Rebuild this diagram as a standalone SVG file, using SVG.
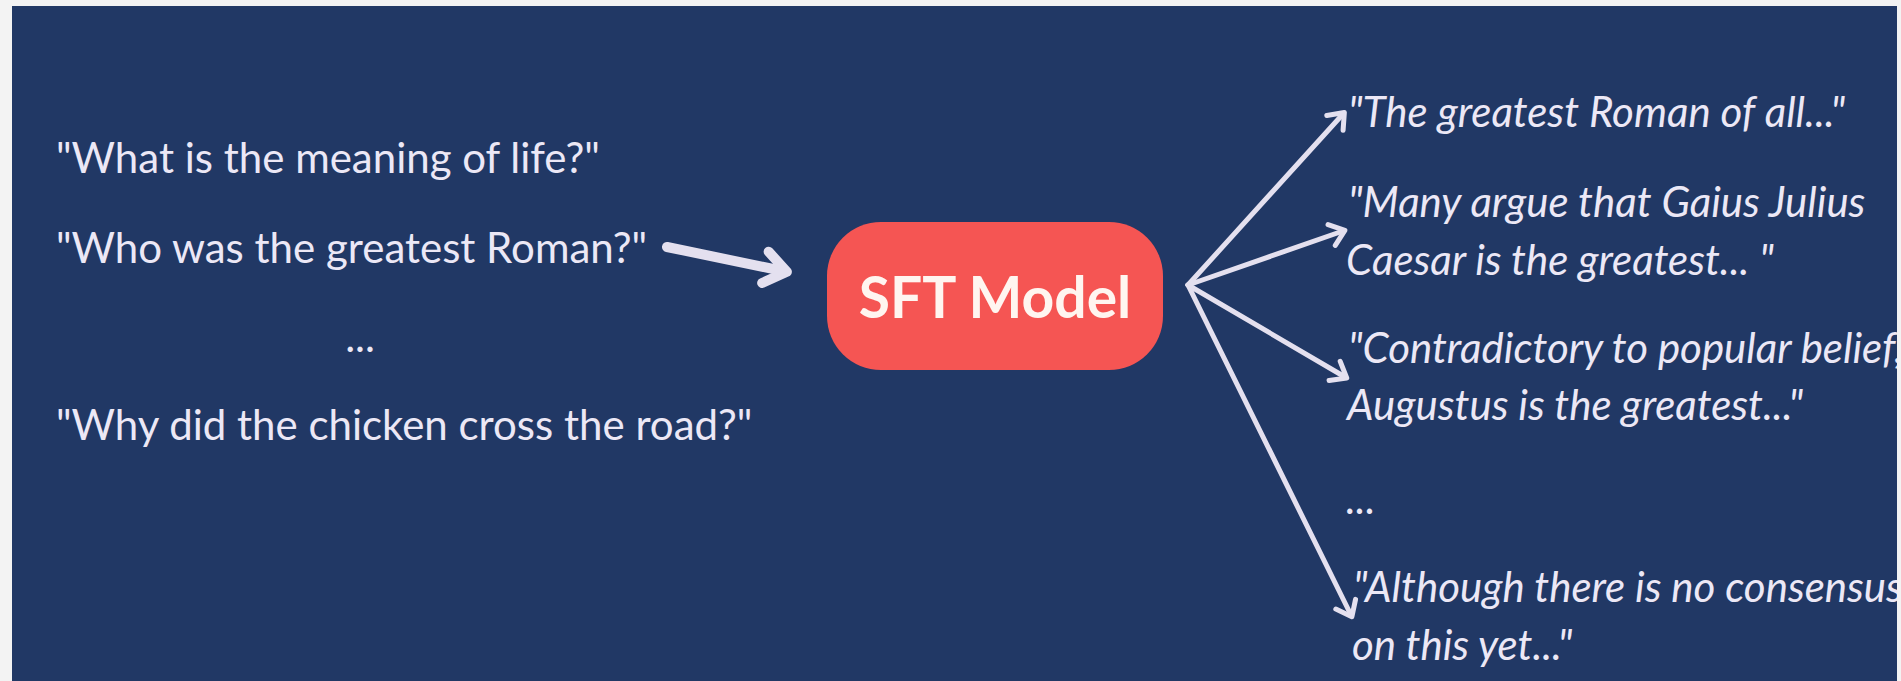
<svg xmlns="http://www.w3.org/2000/svg" width="1901" height="681" viewBox="0 0 1901 681">
  <style>
    .q { font-family: Lato, "Open Sans", "Liberation Sans", sans-serif; font-size: 42px; fill: #ece8f6; }
    .a { font-family: Lato, "Open Sans", "Liberation Sans", sans-serif; font-size: 42px; font-style: italic; fill: #ece8f6; }
    .title { font-family: Lato, "Open Sans", "Liberation Sans", sans-serif; font-size: 57px; font-weight: bold; fill: #fff5f0; }
    .fan { fill: none; stroke: #e4e0ef; stroke-width: 5; stroke-linecap: round; }
    .thick { fill: none; stroke: #e4e0ef; stroke-width: 10; stroke-linecap: round; }
  </style>
  <defs>
    <clipPath id="panel"><rect x="12" y="6" width="1885" height="675"/></clipPath>
    <marker id="headThin" viewBox="-20 -15 24 30" refX="-2" refY="0" markerWidth="24" markerHeight="30" markerUnits="userSpaceOnUse" orient="auto" overflow="visible">
      <path d="M-14,-11 L0,0 L-14,11" fill="none" stroke="#e4e0ef" stroke-width="5" stroke-linecap="round" stroke-linejoin="round"/>
    </marker>
    <marker id="headThick" viewBox="-30 -22 36 44" refX="-4" refY="0" markerWidth="36" markerHeight="44" markerUnits="userSpaceOnUse" orient="auto" overflow="visible">
      <path d="M-22,-16 L0,0 L-22,16" fill="none" stroke="#e4e0ef" stroke-width="10" stroke-linecap="round" stroke-linejoin="round"/>
    </marker>
  </defs>
  <rect x="0" y="0" width="1901" height="681" fill="#f3f3f3"/>
  <rect x="12" y="6" width="1885" height="675" fill="#213865"/>

  <g id="prompts">
    <text class="q" x="56" y="173">"What is the meaning of life?"</text>
    <text class="q" x="56" y="263">"Who was the greatest Roman?"</text>
    <text class="q" x="360" y="352" text-anchor="middle">...</text>
    <text class="q" x="56" y="440">"Why did the chicken cross the road?"</text>
  </g>

  <g id="sft-model">
    <rect x="827" y="222" width="336" height="148" rx="54" ry="54" fill="#f55553"/>
    <text class="title" x="995" y="318" text-anchor="middle">SFT Model</text>
  </g>

  <g clip-path="url(#panel)">
    <g id="answer-1">
      <text class="a" x="1348" y="127">"The greatest Roman of all..."</text>
    </g>
    <g id="answer-2">
      <text class="a" x="1348" y="217">"Many argue that Gaius Julius</text>
      <text class="a" x="1346" y="275">Caesar is the greatest... "</text>
    </g>
    <g id="answer-3">
      <text class="a" x="1348" y="363">"Contradictory to popular belief,</text>
      <text class="a" x="1347" y="420">Augustus is the greatest..."</text>
    </g>
    <g id="answer-ellipsis">
      <text class="a" x="1346" y="514">...</text>
    </g>
    <g id="answer-4">
      <text class="a" x="1353" y="602">"Although there is no consensus</text>
      <text class="a" x="1352" y="660">on this yet..."</text>
    </g>
  </g>

  <g id="connectors">
    <line class="thick" x1="667" y1="247" x2="783" y2="271" marker-end="url(#headThick)"/>
    <line class="fan" x1="1188" y1="285" x2="1343" y2="114" marker-end="url(#headThin)"/>
    <line class="fan" x1="1188" y1="285" x2="1343" y2="231" marker-end="url(#headThin)"/>
    <line class="fan" x1="1188" y1="285" x2="1345" y2="377" marker-end="url(#headThin)"/>
    <line class="fan" x1="1188" y1="285" x2="1351" y2="615" marker-end="url(#headThin)"/>
  </g>
</svg>
